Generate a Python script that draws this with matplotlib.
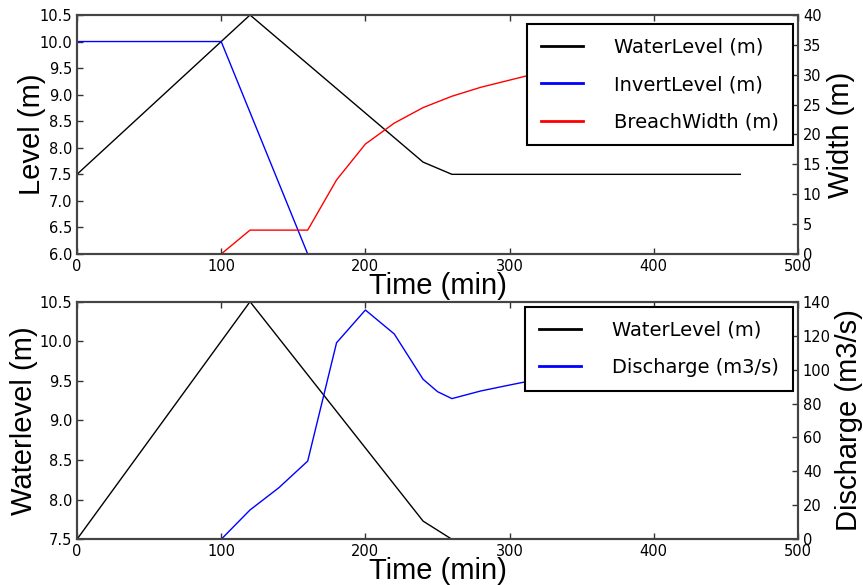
import matplotlib
matplotlib.use('Agg')
import matplotlib.pyplot as plt

# Верхний график: уровни и ширина прорыва
t_water = [0, 120, 240, 260, 460]
water_level = [7.5, 10.5, 7.73, 7.5, 7.5]

t_invert = [0, 100, 160, 180]
invert_level = [10.0, 10.0, 6.0, 5.5]

t_breach = [0, 100, 120, 160, 180, 200, 220, 240, 260, 280, 300, 320, 340, 360, 380, 400, 420, 440, 460]
breach_width = [0, 0, 4, 4, 12.4, 18.4, 21.9, 24.5, 26.4, 27.9, 29.1, 30.3, 31.3, 32.2, 33.0, 33.7, 34.3, 34.8, 35.2]

# Нижний график: уровень воды и расход
t_discharge = [0, 100, 120, 140, 160, 180, 200, 220, 240, 250, 260, 280, 300, 320, 340, 360, 380, 400, 420, 440, 460]
discharge = [0, 0, 17.3, 30.4, 46.1, 115.8, 135.1, 121, 94.3, 87, 82.9, 87.4, 90.9, 94.3, 96, 97, 98, 98.5, 99, 99.5, 100]

label_font = 'Liberation Sans'
spine_col = '#444444'


def style_axes(ax):
    for s in ax.spines.values():
        s.set_color(spine_col)
        s.set_linewidth(1.5)
    ax.tick_params(direction='in', length=4, width=1, colors='#333333',
                   labelsize=10.5, labelcolor='black')


def make_legend(ax, lines, anchor):
    leg = ax.legend(lines, [l.get_label() for l in lines],
                    loc='upper right', fontsize=14, handlelength=2.2, handletextpad=1.6,
                    labelspacing=0.95, borderpad=0.7, borderaxespad=0, fancybox=False,
                    framealpha=1, bbox_to_anchor=anchor)
    leg.get_frame().set_edgecolor('black')
    leg.get_frame().set_linewidth(1.5)
    for h in leg.get_lines():
        h.set_linewidth(2)
    return leg


fig = plt.figure(figsize=(8.63, 5.85), dpi=100)
fig.patch.set_facecolor('white')

ax1 = fig.add_axes([0.0892, 0.5658, 0.8355, 0.4086])
ax1b = ax1.twinx()
l1, = ax1.plot(t_water, water_level, color='k', lw=1, label='WaterLevel (m)')
l2, = ax1.plot(t_invert, invert_level, color='b', lw=1, label='InvertLevel (m)')
l3, = ax1b.plot(t_breach, breach_width, color='r', lw=1, label='BreachWidth (m)')
ax1.set_xlim(0, 500)
ax1.set_ylim(6.0, 10.5)
ax1.set_yticks([6.0, 6.5, 7.0, 7.5, 8.0, 8.5, 9.0, 9.5, 10.0, 10.5])
ax1.set_xticks([0, 100, 200, 300, 400, 500])
ax1b.set_ylim(0, 40)
ax1b.set_yticks(range(0, 41, 5))
ax1.set_xlabel('Time (min)', fontsize=21, family=label_font, labelpad=-1.5)
ax1.set_ylabel('Level (m)', fontsize=21, family=label_font, labelpad=-5)
ax1b.set_ylabel('Width (m)', fontsize=21, family=label_font, labelpad=4)
ax1.tick_params(top=True)
style_axes(ax1)
style_axes(ax1b)
make_legend(ax1b, [l1, l2, l3], (0.993, 0.962))

ax2 = fig.add_axes([0.0892, 0.0781, 0.8355, 0.4062])
ax2b = ax2.twinx()
m1, = ax2.plot(t_water, water_level, color='k', lw=1, label='WaterLevel (m)')
m2, = ax2b.plot(t_discharge, discharge, color='b', lw=1, label='Discharge (m3/s)')
ax2.set_xlim(0, 500)
ax2.set_ylim(7.5, 10.5)
ax2.set_yticks([7.5, 8.0, 8.5, 9.0, 9.5, 10.0, 10.5])
ax2.set_xticks([0, 100, 200, 300, 400, 500])
ax2b.set_ylim(0, 140)
ax2b.set_yticks(range(0, 141, 20))
ax2.set_xlabel('Time (min)', fontsize=21, family=label_font, labelpad=-1.5)
ax2.set_ylabel('Waterlevel (m)', fontsize=21, family=label_font, labelpad=1)
ax2b.set_ylabel('Discharge (m3/s)', fontsize=21, family=label_font, labelpad=3)
ax2.tick_params(top=True)
style_axes(ax2)
style_axes(ax2b)
make_legend(ax2b, [m1, m2], (0.993, 0.978))

fig.savefig('out.png', dpi=100, facecolor='white')
